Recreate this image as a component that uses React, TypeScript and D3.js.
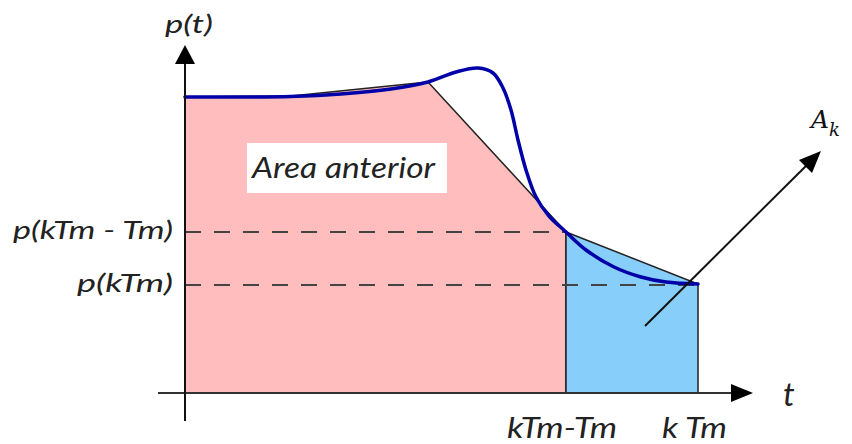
import React from "react";
import * as d3 from "d3";

// Abstract coordinates: t runs 0..568, p runs 0..350 (origin at axes crossing)
const curveT = [0, 56, 106, 156, 206, 243, 271, 293, 308, 318, 326, 333, 341, 351, 364, 381, 401, 429, 456, 481, 513];
const curveP = [296, 296, 296.5, 299, 304, 311, 321, 325, 320, 305, 283, 253, 223, 196, 177, 161, 143, 126, 116, 111, 109];

const pinkT = [0, 106, 243, 381, 381, 0];
const pinkP = [296, 297, 311, 161, 0, 0];

const blueT = [381, 513, 513, 381];
const blueP = [161, 109, 0, 0];

const tPrev = 381;
const tCur = 513;
const pPrev = 161;
const pCur = 108;

const yLabels = ["p(kTm - Tm)", "p(kTm)"];
const xLabels = ["kTm-Tm", "k Tm"];

export default function App() {
  const W = 852, H = 444;
  const x = d3.scaleLinear().domain([0, 568]).range([185, 753]);
  const y = d3.scaleLinear().domain([0, 350]).range([393, 43]);

  const poly = (ts: number[], ps: number[]) =>
    ts.map((t, i) => `${x(t)},${y(ps[i])}`).join(" ");

  const line = d3
    .line<number>()
    .x((_, i) => x(curveT[i]))
    .y((d) => y(d))
    .curve(d3.curveCatmullRom.alpha(0.5));

  const font = "Lato, 'Open Sans', sans-serif";
  const axisColor = "#333";

  return (
    <svg width={W} height={H} style={{ position: "absolute", left: 0, top: 0 }}>
      <rect width={W} height={H} fill="#fff" />
      {/* pink area */}
      <polygon points={poly(pinkT, pinkP)} fill="#ffbdbd" stroke="#222" strokeWidth={1.5} strokeLinejoin="round" />
      {/* blue area */}
      <polygon points={poly(blueT, blueP)} fill="#87cefa" stroke="#222" strokeWidth={1.5} />

      {/* dashed reference lines */}
      <line x1={x(0)} x2={x(tPrev)} y1={y(pPrev)} y2={y(pPrev)} stroke="#444" strokeWidth={2} strokeDasharray="16,13" />
      <line x1={x(0)} x2={x(tCur)} y1={y(pCur)} y2={y(pCur)} stroke="#444" strokeWidth={2} strokeDasharray="16,13" />

      {/* Area anterior label */}
      <rect x={247} y={143} width={200} height={50} fill="#fff" />
      <text x={252} y={178} fontFamily={font} fontStyle="italic" fontSize={28} fill="#222" textLength={183} lengthAdjust="spacingAndGlyphs">Area anterior</text>

      {/* blue curve */}
      <path d={line(curveP) || ""} fill="none" stroke="#0000a8" strokeWidth={3.5} strokeLinecap="round" />

      {/* axes */}
      <line x1={158} x2={740} y1={y(0)} y2={y(0)} stroke={axisColor} strokeWidth={2} />
      <polygon points={`${753},${y(0)} ${731},${y(0) - 9} ${731},${y(0) + 9}`} fill="#000" />
      <line x1={x(0)} x2={x(0)} y1={421} y2={60} stroke="#111" strokeWidth={2} />
      <polygon points={`${x(0)},45 ${x(0) - 10},64 ${x(0) + 10},64`} fill="#000" />

      {/* axis labels */}
      <text x={165} y={33} fontFamily={font} fontStyle="italic" fontSize={26} fill="#222" textLength={48} lengthAdjust="spacingAndGlyphs">p(t)</text>
      <text x={783} y={406} fontFamily={font} fontStyle="italic" fontSize={33} fill="#222">t</text>

      {/* y labels */}
      <text x={13} y={239} fontFamily={font} fontStyle="italic" fontSize={26} fill="#222" textLength={160} lengthAdjust="spacingAndGlyphs">{yLabels[0]}</text>
      <text x={77} y={292} fontFamily={font} fontStyle="italic" fontSize={26} fill="#222" textLength={96} lengthAdjust="spacingAndGlyphs">{yLabels[1]}</text>

      {/* x labels */}
      <text x={507} y={438} fontFamily={font} fontStyle="italic" fontSize={29} fill="#222" textLength={110} lengthAdjust="spacingAndGlyphs">{xLabels[0]}</text>
      <text x={662} y={438} fontFamily={font} fontStyle="italic" fontSize={29} fill="#222" textLength={65} lengthAdjust="spacingAndGlyphs">{xLabels[1]}</text>

      {/* A_k arrow */}
      <line x1={645} y1={326} x2={812} y2={160} stroke="#111" strokeWidth={2} />
      <polygon points="821,151 799,160 812,173" fill="#000" />
      <text x={811} y={128} fontFamily="'DejaVu Serif', 'Liberation Serif', serif" fontStyle="italic" fontSize={25} fill="#111">
        A<tspan fontSize={18} dy={8}>k</tspan>
      </text>
    </svg>
  );
}
